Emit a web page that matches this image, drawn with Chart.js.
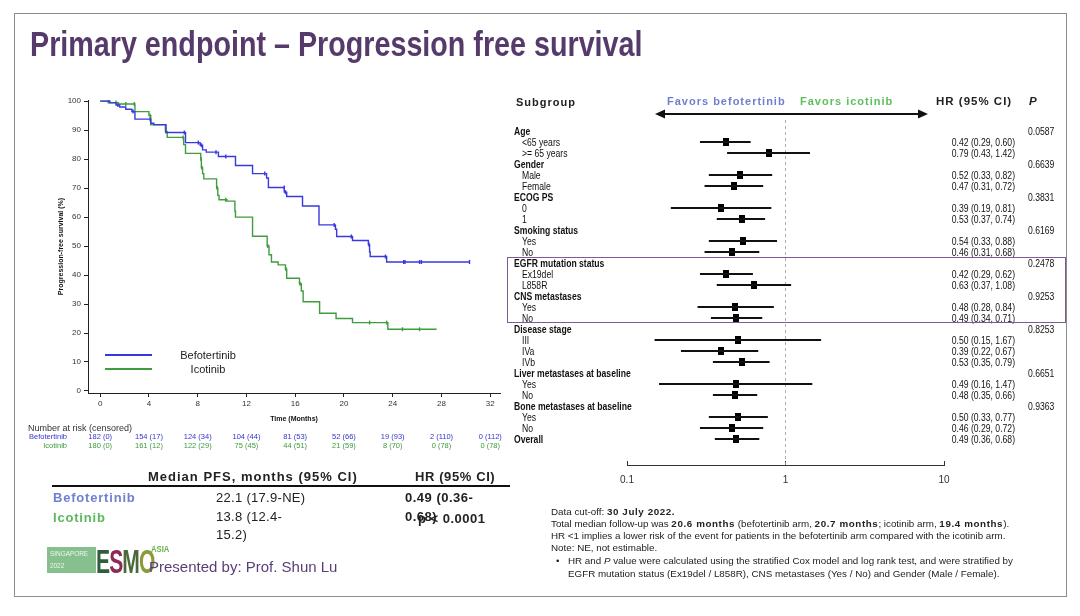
<!DOCTYPE html>
<html><head><meta charset="utf-8">
<script src="https://cdn.jsdelivr.net/npm/chart.js@4.4.0/dist/chart.umd.min.js"></script>
<style>
html,body{margin:0;padding:0;background:#fff;}
body{width:1080px;height:616px;position:relative;overflow:hidden;font-family:"Liberation Sans",Arial,sans-serif;color:#222;}
.a{position:absolute;white-space:nowrap;line-height:1;}
canvas{position:absolute;}
</style></head><body>
<div style="position:absolute;left:14px;top:13px;width:1053px;height:584px;border:1px solid #8c8c8c;box-sizing:border-box;"></div>
<canvas id="km" width="455" height="335" style="left:55px;top:90px;width:455px;height:335px;"></canvas>
<canvas id="fp" width="357" height="385" style="left:607px;top:110px;width:357px;height:385px;"></canvas>
<svg style="position:absolute;left:0;top:0;" width="1080" height="616">
  <line x1="662" y1="114" x2="921" y2="114" stroke="#111" stroke-width="2"/>
  <polygon points="655,114 665,109.5 665,118.5" fill="#111"/>
  <polygon points="928,114 918,109.5 918,118.5" fill="#111"/>
  <line x1="52" y1="486" x2="510" y2="486" stroke="#111" stroke-width="2"/>
</svg>
<script>
// ---------- KM data ----------
const kmXTicks = [0, 4, 8, 12, 16, 20, 24, 28, 32];
const kmYTicks = [0, 10, 20, 30, 40, 50, 60, 70, 80, 90, 100];
const befoT = [0, 0.8, 1.3, 1.6, 2.1, 2.6, 2.85, 4.15, 4.4, 5.4, 7.0, 8.2, 8.4, 8.7, 9.7, 11.1, 12.5, 13.65, 13.8, 15.1, 15.3, 16.6, 17.95, 19.3, 19.4, 20.7, 22.0, 22.1, 22.15, 23.5, 30.3];
const befoS = [100, 99.4, 98.7, 98.0, 97.2, 96.4, 93.8, 92.4, 91.9, 89.2, 85.7, 84.8, 83.2, 82.4, 80.9, 77.8, 75.0, 73.5, 70.2, 68.6, 67.1, 63.8, 57.3, 55.8, 53.3, 51.9, 50.5, 48.0, 46.4, 44.5, 44.5];
const icoT = [0, 0.7, 1.5, 2.85, 4.0, 4.15, 5.35, 5.5, 6.85, 7.0, 8.25, 8.3, 8.4, 8.5, 9.55, 9.65, 9.75, 10.4, 11.05, 11.1, 12.5, 13.7, 13.85, 14.05, 14.6, 15.2, 15.3, 16.35, 16.5, 16.65, 18.0, 19.35, 20.7, 23.6, 27.6];
const icoS = [100, 99.5, 99.0, 96.4, 95.0, 91.8, 89.5, 87.5, 85.0, 82.0, 80.0, 77.0, 75.0, 73.2, 70.0, 67.5, 66.0, 65.5, 62.0, 60.0, 53.4, 50.0, 47.0, 44.5, 43.5, 42.0, 38.9, 37.0, 34.5, 30.8, 26.8, 25.0, 23.6, 21.3, 21.3];
const befoCensT = [0.7, 1.45, 2.7, 4.1, 6.9, 8.05, 8.3, 9.5, 10.3, 13.5, 15.1, 15.2, 19.2, 20.6, 22.05, 23.4, 24.9, 25.0, 26.2, 26.35, 30.3];
const befoCensS = [100, 98.7, 96.4, 93.8, 89.2, 85.7, 84.8, 82.4, 80.9, 75.0, 70.2, 68.6, 57.3, 53.3, 50.5, 46.4, 44.5, 44.5, 44.5, 44.5, 44.5];
const icoCensT = [0.65, 1.3, 2.1, 2.8, 4.1, 5.4, 6.8, 8.27, 8.35, 9.6, 10.3, 13.75, 15.25, 16.4, 22.1, 23.5, 24.8, 26.2];
const icoCensS = [100, 99.5, 99.0, 99.0, 95.0, 89.5, 87.5, 80.0, 77.0, 70.0, 66.0, 50.0, 42.0, 37.0, 23.6, 23.6, 21.3, 21.3];
const riskTimes = [0, 4, 8, 12, 16, 20, 24, 28, 32];
const riskBefo = ['182 (0)', '154 (17)', '124 (34)', '104 (44)', '81 (53)', '52 (66)', '19 (93)', '2 (110)', '0 (112)'];
const riskIco = ['180 (0)', '161 (12)', '122 (29)', '75 (45)', '44 (51)', '21 (59)', '8 (70)', '0 (78)', '0 (78)'];
const seriesNames = ['Befotertinib', 'Icotinib'];

// ---------- Forest data ----------
const fpLabels = ['Age', '<65 years', '>= 65 years', 'Gender', 'Male', 'Female', 'ECOG PS', '0', '1', 'Smoking status', 'Yes', 'No', 'EGFR mutation status', 'Ex19del', 'L858R', 'CNS metastases', 'Yes', 'No', 'Disease stage', 'III', 'IVa', 'IVb', 'Liver metastases at baseline', 'Yes', 'No', 'Bone metastases at baseline', 'Yes', 'No', 'Overall'];
const fpBold = [1,0,0,1,0,0,1,0,0,1,0,0,1,0,0,1,0,0,1,0,0,0,1,0,0,1,0,0,1];
const fpHR = [null,0.42,0.79,null,0.52,0.47,null,0.39,0.53,null,0.54,0.46,null,0.42,0.63,null,0.48,0.49,null,0.50,0.39,0.53,null,0.49,0.48,null,0.50,0.46,0.49];
const fpLo = [null,0.29,0.43,null,0.33,0.31,null,0.19,0.37,null,0.33,0.31,null,0.29,0.37,null,0.28,0.34,null,0.15,0.22,0.35,null,0.16,0.35,null,0.33,0.29,0.36];
const fpHi = [null,0.60,1.42,null,0.82,0.72,null,0.81,0.74,null,0.88,0.68,null,0.62,1.08,null,0.84,0.71,null,1.67,0.67,0.79,null,1.47,0.66,null,0.77,0.72,0.68];
const fpP = ['0.0587','','','0.6639','','','0.3831','','','0.6169','','','0.2478','','','0.9253','','','0.8253','','','','0.6651','','','0.9363','','',''];
const fpXTicks = [0.1, 1, 10];
const fpRef = 1;
const fpBoxRows = [12, 17];

const BLUE = '#3838e0', GREEN = '#3f9c3f';
Chart.defaults.font.family = '"Liberation Sans", Arial, sans-serif';

// text helper: x,y = anchor point (y = vertical centre); sx = horizontal squeeze
function T(x, y, html, css, anchor, sx) {
  const d = document.createElement('div');
  d.className = 'a';
  d.innerHTML = html;
  d.style.cssText += css || '';
  d.style.left = x + 'px';
  d.style.top = y + 'px';
  const tx = anchor === 'c' ? '-50%' : anchor === 'r' ? '-100%' : '0';
  let tr = 'translate(' + tx + ',-50%)';
  if (sx) {
    tr += ' scaleX(' + sx + ')';
    d.style.transformOrigin = anchor === 'c' ? 'center center' : anchor === 'r' ? 'right center' : 'left center';
  }
  d.style.transform = tr;
  document.body.appendChild(d);
  return d;
}
const NAR = 0.82;

// ---------- KM chart ----------
const km = new Chart(document.getElementById('km'), {
  type: 'line',
  data: {
    datasets: [
      { data: befoT.map((t, i) => ({ x: t, y: befoS[i] })), stepped: 'before', borderColor: BLUE, borderWidth: 1.4, pointRadius: 0, fill: false },
      { data: icoT.map((t, i) => ({ x: t, y: icoS[i] })), stepped: 'before', borderColor: GREEN, borderWidth: 1.4, pointRadius: 0, fill: false },
      { type: 'scatter', data: befoCensT.map((t, i) => ({ x: t, y: befoCensS[i] })), pointStyle: 'line', rotation: 90, pointRadius: 2, borderColor: BLUE, borderWidth: 1.4 },
      { type: 'scatter', data: icoCensT.map((t, i) => ({ x: t, y: icoCensS[i] })), pointStyle: 'line', rotation: 90, pointRadius: 2, borderColor: GREEN, borderWidth: 1.4 }
    ]
  },
  options: {
    responsive: false, animation: false, events: [],
    layout: { padding: { left: 0, right: 10, top: 10, bottom: 0 } },
    plugins: { legend: { display: false }, tooltip: { enabled: false } },
    scales: {
      x: {
        type: 'linear', min: -1, max: 32.8,
        afterBuildTicks: s => { s.ticks = kmXTicks.map(v => ({ value: v })); },
        afterFit: s => { s.height = 32; },
        grid: { drawOnChartArea: false, color: '#222', tickLength: 4 },
        border: { color: '#222', width: 1 },
        ticks: { font: { size: 8 }, color: '#333', padding: 2, maxRotation: 0, autoSkip: false },
        title: { display: true, text: 'Time (Months)', font: { size: 7, weight: 'bold' }, color: '#111', padding: { top: 0, bottom: 2 } }
      },
      y: {
        type: 'linear', min: -0.7, max: 100.4,
        afterBuildTicks: s => { s.ticks = kmYTicks.map(v => ({ value: v })); },
        afterFit: s => { s.width = 33; },
        grid: { drawOnChartArea: false, color: '#222', tickLength: 4 },
        border: { color: '#222', width: 1 },
        ticks: { font: { size: 8 }, color: '#333', padding: 3, autoSkip: false },
        title: { display: true, text: 'Progression-free survival (%)', font: { size: 7, weight: 'bold' }, color: '#111', padding: { top: 2, bottom: 0 } }
      }
    }
  }
});

// KM legend
const kmL = 55, kmTop = 90;
[[BLUE, 355, seriesNames[0]], [GREEN, 369, seriesNames[1]]].forEach(([c, y, n]) => {
  const l = document.createElement('div');
  l.style.cssText = 'position:absolute;left:105px;width:47px;height:1.4px;background:' + c + ';top:' + (y - 0.7) + 'px;';
  document.body.appendChild(l);
  T(208, y, n, 'font-size:11px;color:#222;', 'c');
});

// Number at risk
T(28, 428, 'Number at risk (censored)', 'font-size:9px;color:#333;');
T(67, 437, seriesNames[0], 'font-size:7.5px;color:#3535cc;', 'r');
T(67, 446, seriesNames[1], 'font-size:7.5px;color:#3c9a3c;', 'r');
riskTimes.forEach((t, i) => {
  const px = kmL + km.scales.x.getPixelForValue(t);
  T(px, 437, riskBefo[i], 'font-size:7.5px;color:#3535cc;', 'c');
  T(px, 446, riskIco[i], 'font-size:7.5px;color:#3c9a3c;', 'c');
});

// ---------- Forest chart ----------
const sq = document.createElement('canvas');
sq.width = 6; sq.height = 8;
const sctx = sq.getContext('2d'); sctx.fillStyle = '#000'; sctx.fillRect(0, 0, 6, 8);

const ciData = [], hrData = [];
fpHR.forEach((h, i) => {
  if (h != null) { ciData.push({ y: i, x: [fpLo[i], fpHi[i]] }); hrData.push({ x: h, y: i }); }
});
const fpYMin = -1, fpYMax = 30.36;
const fp = new Chart(document.getElementById('fp'), {
  type: 'bar',
  data: {
    datasets: [
      { type: 'bar', data: ciData, backgroundColor: '#111', barThickness: 1.5, grouped: false, indexAxis: 'y' },
      { type: 'scatter', data: hrData, pointStyle: sq, pointRadius: 4, indexAxis: 'y' },
      { type: 'line', data: [{ x: fpRef, y: fpYMin }, { x: fpRef, y: fpYMax }], borderColor: '#9a9a9a', borderWidth: 0.8, borderDash: [3, 3], pointRadius: 0, indexAxis: 'y' }
    ]
  },
  options: {
    indexAxis: 'y', responsive: false, animation: false, events: [],
    layout: { padding: { left: 20, right: 20, top: 10, bottom: 0 } },
    plugins: { legend: { display: false }, tooltip: { enabled: false } },
    scales: {
      x: {
        type: 'logarithmic', min: 0.1, max: 10,
        afterBuildTicks: s => { s.ticks = fpXTicks.map(v => ({ value: v })); },
        afterFit: s => { s.height = 30; },
        grid: { drawOnChartArea: false, color: '#333', tickLength: -4 },
        border: { color: '#333', width: 1 },
        ticks: { font: { size: 10 }, color: '#333', padding: 13, autoSkip: false, callback: v => String(v) }
      },
      y: { type: 'linear', reverse: true, offset: false, min: fpYMin, max: fpYMax, display: false }
    }
  }
});

const fpL = 607, fpTop = 110;
const py = i => fpTop + fp.scales.y.getPixelForValue(i);
fpLabels.forEach((lab, i) => {
  const b = fpBold[i];
  T(b ? 514 : 522, py(i), lab.replace(/</g, '&lt;').replace(/>/g, '&gt;'), 'font-size:10.5px;color:#111;' + (b ? 'font-weight:bold;' : ''), '', NAR);
  if (fpHR[i] != null) {
    T(1015, py(i), fpHR[i].toFixed(2) + ' (' + fpLo[i].toFixed(2) + ', ' + fpHi[i].toFixed(2) + ')', 'font-size:10.5px;color:#111;', 'r', NAR);
  }
  if (fpP[i]) T(1028, py(i), fpP[i], 'font-size:10.5px;color:#111;', '', NAR);
});
// highlight box
const bx = document.createElement('div');
const bt = py(fpBoxRows[0]) - 6.5, bb = py(fpBoxRows[1]) + 5;
bx.style.cssText = 'position:absolute;left:507px;width:559px;border:1.5px solid #7b5c94;box-sizing:border-box;top:' + bt + 'px;height:' + (bb - bt) + 'px;';
document.body.appendChild(bx);

// forest headers
T(516, 102, 'Subgroup', 'font-size:11px;font-weight:bold;letter-spacing:1px;color:#222;');
T(667, 101, 'Favors befotertinib', 'font-size:11px;font-weight:bold;letter-spacing:1px;color:#6f7fd0;');
T(800, 101, 'Favors icotinib', 'font-size:11px;font-weight:bold;letter-spacing:1px;color:#5cbf5c;');
T(936, 102, 'HR (95% CI)', 'font-size:11.5px;font-weight:bold;letter-spacing:1px;color:#222;');
T(1029, 102, 'P', 'font-size:11.5px;font-weight:bold;font-style:italic;color:#222;');

// ---------- Title ----------
T(30, 43, 'Primary endpoint – Progression free survival', 'font-size:35px;font-weight:bold;color:#563a6b;', '', NAR);

// ---------- Left table ----------
T(148, 476, 'Median PFS, months (95% CI)', 'font-size:13px;font-weight:bold;letter-spacing:1px;color:#222;');
T(415, 476, 'HR (95% CI)', 'font-size:13px;font-weight:bold;letter-spacing:0.6px;color:#222;');
T(53, 497, 'Befotertinib', 'font-size:13px;font-weight:bold;letter-spacing:0.8px;color:#7080d0;');
T(53, 517, 'Icotinib', 'font-size:13px;font-weight:bold;letter-spacing:0.8px;color:#5cb85c;');
T(216, 497, '22.1 (17.9-NE)', 'font-size:13px;letter-spacing:0.3px;color:#222;');
T(216, 516, '13.8 (12.4-', 'font-size:13px;letter-spacing:0.3px;color:#222;');
T(216, 534, '15.2)', 'font-size:13px;letter-spacing:0.3px;color:#222;');
T(405, 497, '0.49 (0.36-', 'font-size:13px;font-weight:bold;letter-spacing:0.5px;color:#222;');
T(405, 516, '0.68)', 'font-size:13px;font-weight:bold;letter-spacing:0.5px;color:#222;');
T(418, 518, 'p &lt; 0.0001', 'font-size:13px;font-weight:bold;letter-spacing:0.5px;color:#222;');

// ---------- Logo & presenter ----------
const g = document.createElement('div');
g.style.cssText = 'position:absolute;left:47px;top:547px;width:49px;height:26px;background:#86c08f;';
document.body.appendChild(g);
T(50, 554, 'SINGAPORE', 'font-size:8px;color:#eef7ee;', '', 0.8);
T(50, 566, '2022', 'font-size:8px;color:#eef7ee;', '', 0.8);
T(96, 561, '<span style="color:#2f5e3c">E</span><span style="color:#8c2a55">S</span><span style="color:#4a6a3a">M</span><span style="color:#8b9a3b">O</span>', 'font-size:34px;font-weight:bold;letter-spacing:-1.5px;', '', 0.62);
T(151, 549, 'ASIA', 'font-size:9px;font-weight:bold;color:#6ab04c;', '', 0.85);
T(149, 566, 'Presented by: Prof. Shun Lu', 'font-size:15px;color:#5a3d78;');

// ---------- Footnotes ----------
const fs = 'font-size:9.8px;color:#222;';
const bs = 'letter-spacing:0.6px;';
T(551, 512, 'Data cut-off: <b style="' + bs + '">30 July 2022.</b>', fs);
T(551, 524, 'Total median follow-up was <b style="' + bs + '">20.6 months</b> (befotertinib arm, <b style="' + bs + '">20.7 months</b>; icotinib arm, <b style="' + bs + '">19.4 months</b>).', fs);
T(551, 536, 'HR &lt;1 implies a lower risk of the event for patients in the befotertinib arm compared with the icotinib arm.', fs);
T(551, 548, 'Note: NE, not estimable.', fs);
T(556, 561, '•', fs);
T(568, 561, 'HR and <i>P</i> value were calculated using the stratified Cox model and log rank test, and were stratified by', fs);
T(568, 574, 'EGFR mutation status (Ex19del / L858R), CNS metastases (Yes / No) and Gender (Male / Female).', fs);
</script>
</body></html>
